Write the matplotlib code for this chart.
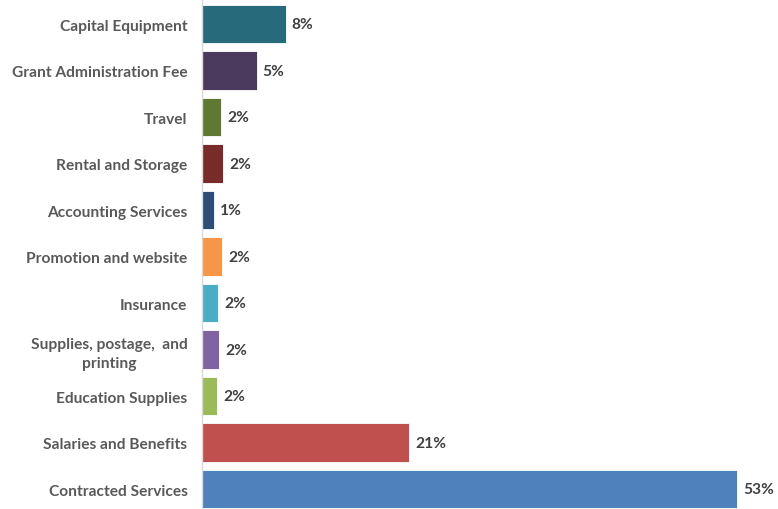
import matplotlib.pyplot as plt

# budget categories, top to bottom
categories = [
    "Capital Equipment",
    "Grant Administration Fee",
    "Travel",
    "Rental and Storage",
    "Accounting Services",
    "Promotion and website",
    "Insurance",
    "Supplies, postage,  and\nprinting",
    "Education Supplies",
    "Salaries and Benefits",
    "Contracted Services",
]
shares = [8.3, 5.4, 1.9, 2.1, 1.2, 2.0, 1.6, 1.7, 1.5, 20.5, 53.0]
share_labels = ["8%", "5%", "2%", "2%", "1%", "2%", "2%", "2%", "2%", "21%", "53%"]
colors = ["#276A7C", "#4B3A5E", "#5F7832", "#772C2A", "#2C4D75", "#F79646",
          "#4BACC6", "#8064A2", "#9BBB59", "#C0504D", "#4F81BD"]

plt.rcParams['font.family'] = ['Lato', 'DejaVu Sans']

fig = plt.figure(figsize=(7.78, 5.10), dpi=100)
ax = fig.add_axes([202 / 778, 0, 576 / 778, 1])

n = len(categories)
ypos = [n - 1 - i for i in range(n)]
ax.barh(ypos, shares, height=0.82, color=colors, edgecolor="#ffffff",
        linewidth=0.6)

for y, v, lab in zip(ypos, shares, share_labels):
    ax.text(v + 0.6, y, lab, va="center", ha="left", fontsize=11.2,
            fontweight="bold", color="#404040")

ax.set_yticks(ypos)
ax.set_yticklabels(categories, fontsize=11.2, fontweight="bold",
                   color="#595959", multialignment="center", linespacing=1.45)
ax.tick_params(axis="y", length=0, pad=10.5)
ax.set_xticks([])
ax.set_xlim(0, 57.06)
ax.set_ylim(-0.43, 10.538)

for s in ["top", "right", "bottom"]:
    ax.spines[s].set_visible(False)
ax.spines["left"].set_color("#D9D9D9")
ax.spines["left"].set_linewidth(1)

fig.savefig("out.png", dpi=100)
